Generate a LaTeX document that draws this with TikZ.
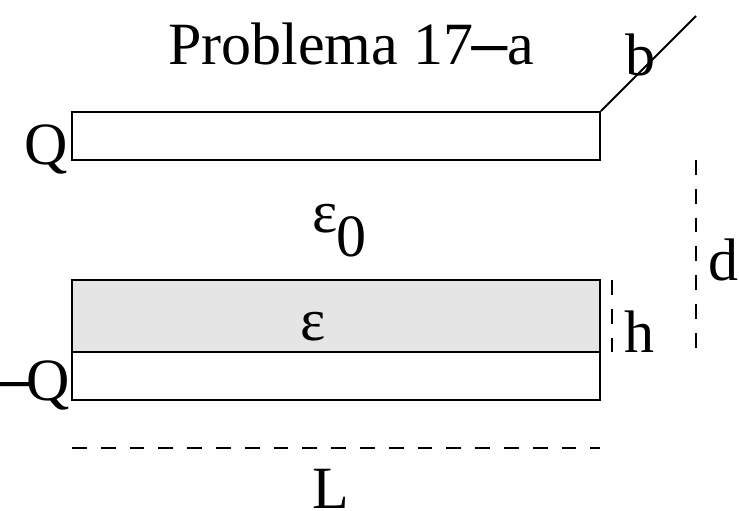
\documentclass[tikz,border=0pt]{standalone}
\usepackage{fontspec}
\usepackage{graphicx}
\setmainfont{Liberation Serif}
\newcommand{\thickminus}{\raisebox{-4pt}{\makebox[34pt]{\scalebox{1.3}[1]{\bfseries −}}}}
\begin{document}
\begin{tikzpicture}[x=1pt,y=-1pt,
  plate/.style={draw=black,line width=1.9pt,fill=white,minimum width=0pt,inner sep=0pt},
  lab/.style={inner sep=0pt,font=\fontsize{60}{60}\selectfont,text=black},
  dim/.style={draw=black,line width=2.2pt,dash pattern=on 14.8pt off 14pt}]
\useasboundingbox (0,0) rectangle (739,511);
\node[plate,minimum width=528pt,minimum height=48pt] (top) at (336,136) {};
\node[plate,minimum width=528pt,minimum height=48pt] (bot) at (336,376) {};
\node[plate,fill=black!10,minimum width=528pt,minimum height=72pt] (diel) at (336,316) {};
\coordinate (b1) at (696,16);
\draw[line width=1.9pt] (top.north east) -- (b1);
\coordinate (d1) at (696,160); \coordinate (d2) at (696,352);
\draw[dim] (d1) -- (d2);
\coordinate (h1) at (612,280); \coordinate (h2) at (612,352);
\draw[dim] (h1) -- (h2);
\coordinate (l1) at (72,448); \coordinate (l2) at (600,448);
\draw[dim] (l1) -- (l2);
\node[lab,anchor=base west] (title) at (168,65) {Problema 17\thickminus a};
\node[lab,anchor=base west] (blab) at (625,76) {b};
\node[lab,anchor=base west] (q) at (24,164) {Q};
\node[lab,anchor=base west] (mq) at (-3,400) {\thickminus\kern-5ptQ};
\node[lab,anchor=base west] (dlab) at (708,280) {d};
\node[lab,anchor=base west] (hlab) at (624,352) {h};
\node[lab,anchor=base west] (llab) at (312,508) {L};
\node[lab,anchor=base west] (eps0) at (312,232) {ε};
\node[lab,anchor=base west] (zero) at (336,256) {0};
\node[lab,anchor=base west] (eps) at (300,340) {ε};
\end{tikzpicture}
\end{document}
